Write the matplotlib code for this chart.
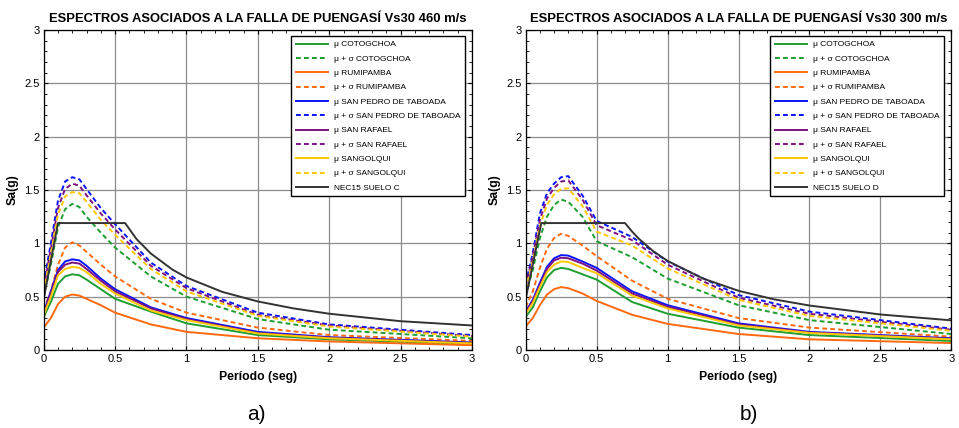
import matplotlib
matplotlib.use("Agg")
import matplotlib.pyplot as plt
from matplotlib.ticker import MultipleLocator

plt.rcParams['font.family'] = ['Liberation Sans', 'DejaVu Sans']

# ---------------- data ----------------
periods = [0, 0.05, 0.1, 0.15, 0.2, 0.25, 0.3, 0.4, 0.5, 0.75, 1.0, 1.5, 2.0, 3.0]

labels = ["μ COTOGCHOA", "μ + σ COTOGCHOA", "μ RUMIPAMBA", "μ + σ RUMIPAMBA",
          "μ SAN PEDRO DE TABOADA", "μ + σ SAN PEDRO DE TABOADA",
          "μ SAN RAFAEL", "μ + σ SAN RAFAEL", "μ SANGOLQUI", "μ + σ SANGOLQUI"]

# Panel a) Vs30 460 m/s
a_cot      = [0.31, 0.45, 0.62, 0.69, 0.71, 0.70, 0.66, 0.57, 0.48, 0.36, 0.25, 0.14, 0.10, 0.056]
a_cot_s    = [0.50, 0.80, 1.15, 1.32, 1.37, 1.34, 1.25, 1.10, 0.96, 0.69, 0.50, 0.29, 0.19, 0.11]
a_rum      = [0.21, 0.30, 0.43, 0.50, 0.52, 0.51, 0.48, 0.42, 0.35, 0.24, 0.17, 0.11, 0.08, 0.045]
a_rum_s    = [0.38, 0.55, 0.80, 0.96, 1.01, 0.98, 0.92, 0.80, 0.69, 0.48, 0.35, 0.21, 0.14, 0.085]
a_spt      = [0.35, 0.55, 0.75, 0.83, 0.85, 0.84, 0.79, 0.67, 0.57, 0.40, 0.30, 0.17, 0.12, 0.07]
a_spt_s    = [0.62, 1.00, 1.40, 1.58, 1.62, 1.60, 1.51, 1.33, 1.18, 0.82, 0.60, 0.35, 0.24, 0.14]
a_sr       = [0.34, 0.53, 0.73, 0.80, 0.82, 0.81, 0.76, 0.65, 0.55, 0.39, 0.29, 0.16, 0.115, 0.066]
a_sr_s     = [0.58, 0.95, 1.33, 1.51, 1.56, 1.54, 1.45, 1.28, 1.13, 0.79, 0.58, 0.33, 0.23, 0.13]
a_sang     = [0.33, 0.50, 0.70, 0.76, 0.78, 0.77, 0.73, 0.62, 0.53, 0.37, 0.28, 0.155, 0.11, 0.062]
a_sang_s   = [0.55, 0.90, 1.27, 1.44, 1.48, 1.47, 1.39, 1.22, 1.08, 0.76, 0.55, 0.32, 0.22, 0.125]

# Panel b) Vs30 300 m/s
b_cot      = [0.31, 0.40, 0.55, 0.68, 0.75, 0.77, 0.76, 0.71, 0.66, 0.45, 0.34, 0.21, 0.14, 0.085]
b_cot_s    = [0.52, 0.75, 1.05, 1.25, 1.36, 1.41, 1.39, 1.25, 1.02, 0.87, 0.67, 0.42, 0.28, 0.15]
b_rum      = [0.22, 0.30, 0.42, 0.52, 0.57, 0.59, 0.58, 0.53, 0.46, 0.33, 0.245, 0.15, 0.10, 0.065]
b_rum_s    = [0.40, 0.55, 0.77, 0.95, 1.05, 1.09, 1.07, 0.98, 0.88, 0.65, 0.48, 0.30, 0.21, 0.125]
b_spt      = [0.36, 0.47, 0.63, 0.78, 0.86, 0.89, 0.885, 0.83, 0.77, 0.55, 0.42, 0.25, 0.17, 0.11]
b_spt_s    = [0.62, 0.91, 1.28, 1.47, 1.56, 1.62, 1.63, 1.45, 1.21, 1.06, 0.83, 0.515, 0.36, 0.20]
b_sr       = [0.35, 0.46, 0.61, 0.76, 0.84, 0.865, 0.86, 0.81, 0.745, 0.53, 0.405, 0.24, 0.165, 0.105]
b_sr_s     = [0.60, 0.88, 1.22, 1.42, 1.52, 1.58, 1.59, 1.41, 1.17, 1.03, 0.80, 0.49, 0.34, 0.19]
b_sang     = [0.34, 0.44, 0.59, 0.73, 0.80, 0.83, 0.825, 0.77, 0.72, 0.51, 0.39, 0.23, 0.16, 0.10]
b_sang_s   = [0.57, 0.83, 1.16, 1.36, 1.46, 1.51, 1.515, 1.35, 1.11, 0.98, 0.765, 0.47, 0.32, 0.18]

# NEC15 design spectra
nec_c_T  = [0, 0.1, 0.57, 0.65, 0.75, 0.9, 1.0, 1.25, 1.5, 1.75, 2.0, 2.5, 3.0]
nec_c_Sa = [0.48, 1.19, 1.19, 1.04, 0.905, 0.755, 0.68, 0.545, 0.455, 0.39, 0.34, 0.27, 0.23]
nec_d_T  = [0, 0.11, 0.70, 0.75, 0.8, 0.9, 1.0, 1.25, 1.5, 1.75, 2.0, 2.5, 3.0]
nec_d_Sa = [0.48, 1.19, 1.19, 1.11, 1.04, 0.925, 0.835, 0.67, 0.555, 0.475, 0.417, 0.333, 0.278]

titles = ["ESPECTROS ASOCIADOS A LA FALLA DE PUENGASÍ Vs30 460 m/s",
          "ESPECTROS ASOCIADOS A LA FALLA DE PUENGASÍ Vs30 300 m/s"]
nec_labels = ["NEC15 SUELO C", "NEC15 SUELO D"]
captions = ["a)", "b)"]

colors = ["#1f9e32", "#1f9e32", "#ff6a10", "#ff6a10", "#0a14ff", "#0a14ff",
          "#7e1180", "#7e1180", "#ffc800", "#ffc800"]
styles = ["-", "--"] * 5

panels = [
    ([a_cot, a_cot_s, a_rum, a_rum_s, a_spt, a_spt_s, a_sr, a_sr_s, a_sang, a_sang_s], nec_c_T, nec_c_Sa),
    ([b_cot, b_cot_s, b_rum, b_rum_s, b_spt, b_spt_s, b_sr, b_sr_s, b_sang, b_sang_s], nec_d_T, nec_d_Sa),
]

fig = plt.figure(figsize=(9.59, 4.28), dpi=100)
W, H = 959, 428
axes_px = [(43.7, 472.0), (525.7, 951.3)]
cap_x = [256, 749]

for i, (series, nT, nSa) in enumerate(panels):
    x0, x1 = axes_px[i]
    ax = fig.add_axes([x0 / W, (H - 350) / H, (x1 - x0) / W, 320 / H])
    for s, lab, c, ls in zip(series, labels, colors, styles):
        ax.plot(periods, s, color=c, ls=ls, lw=1.4, label=lab,
                dashes=(2.5, 1.6) if ls == "--" else (None, None))
    ax.plot(nT, nSa, color="#333333", lw=1.4, label=nec_labels[i])
    ax.set_xlim(0, 3)
    ax.set_ylim(0, 3)
    ax.xaxis.set_major_locator(MultipleLocator(0.5))
    ax.yaxis.set_major_locator(MultipleLocator(0.5))
    ax.xaxis.set_minor_locator(MultipleLocator(0.1))
    ax.yaxis.set_minor_locator(MultipleLocator(0.1))
    ax.xaxis.set_major_formatter(plt.FuncFormatter(lambda v, p: f"{v:g}"))
    ax.yaxis.set_major_formatter(plt.FuncFormatter(lambda v, p: f"{v:g}"))
    ax.grid(True, which="major", color="#8c8c8c", lw=0.9)
    ax.set_axisbelow(True)
    ax.tick_params(which="both", direction="in", top=True, right=True, labelsize=8, pad=3)
    ax.tick_params(which="major", length=3)
    ax.tick_params(which="minor", length=2)
    for sp in ax.spines.values():
        sp.set_color("black")
        sp.set_linewidth(0.9)
    ax.set_title(titles[i], fontsize=9.4, fontweight="bold", pad=6)
    ax.set_xlabel("Período (seg)", fontsize=8.8, fontweight="bold", labelpad=5)
    ax.set_ylabel("Sa(g)", fontsize=8.8, fontweight="bold", labelpad=4)
    leg = ax.legend(loc="upper right", bbox_to_anchor=(0.984, 0.981), borderaxespad=0,
                    fontsize=6, frameon=True, fancybox=False, framealpha=1,
                    edgecolor="black", handlelength=3.9, handletextpad=0.7,
                    labelspacing=0.78, borderpad=0.55)
    leg.get_frame().set_linewidth(1.0)
    fig.text(cap_x[i] / W, 1 - 415 / H, captions[i], fontsize=15, ha="center", va="center")

fig.savefig("out.png", dpi=100)
